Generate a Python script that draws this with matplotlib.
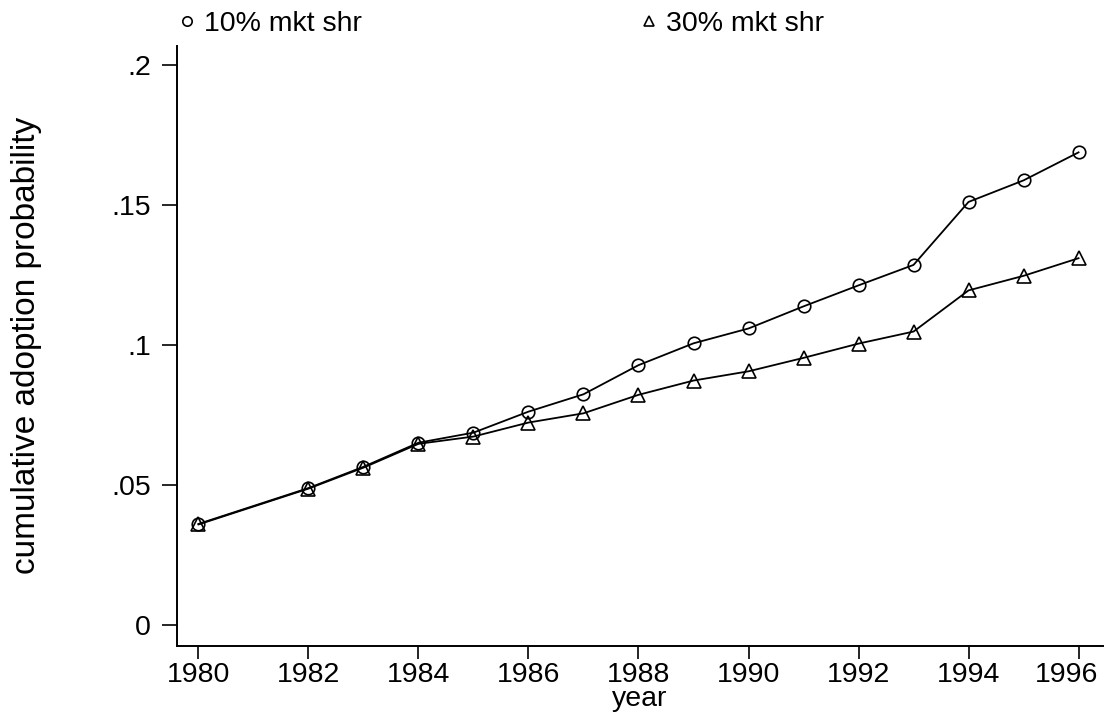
import matplotlib
matplotlib.use("Agg")
import matplotlib.pyplot as plt
from matplotlib.transforms import ScaledTranslation

plt.rcParams["font.family"] = ["Liberation Sans", "DejaVu Sans"]

# Data
years = [1980, 1982, 1983, 1984, 1985, 1986, 1987, 1988, 1989, 1990,
         1991, 1992, 1993, 1994, 1995, 1996]
share_10 = [0.0362, 0.0490, 0.0566, 0.0652, 0.0688, 0.0763, 0.0825, 0.0929,
            0.1007, 0.1060, 0.1139, 0.1214, 0.1287, 0.1512, 0.1589, 0.1689]
share_30 = [0.0360, 0.0488, 0.0563, 0.0648, 0.0674, 0.0724, 0.0757, 0.0823,
            0.0874, 0.0907, 0.0955, 0.1006, 0.1049, 0.1196, 0.1248, 0.1311]

x_ticks = list(range(1980, 1997, 2))
y_ticks = [0, 0.05, 0.1, 0.15, 0.2]
y_tick_labels = ["0", ".05", ".1", ".15", ".2"]

fs = 20.5

fig = plt.figure(figsize=(11.07, 7.14), dpi=100)
ax = fig.add_axes([0.1596, 0.0957, 0.8368, 0.8399])

ax.plot(years, share_10, color="black", linewidth=1.3, marker="o",
        markersize=9, markerfacecolor="none", markeredgewidth=1.2,
        label="10% mkt shr")
ax.plot(years, share_30, color="black", linewidth=1.3, marker="^",
        markersize=9.5, markerfacecolor="none", markeredgewidth=1.2,
        label="30% mkt shr")

ax.set_xlim(1979.604, 1996.445)
ax.set_ylim(-0.00729, 0.2069)
ax.set_xticks(x_ticks)
ax.set_yticks(y_ticks)
ax.set_yticklabels(y_tick_labels)

for side in ["top", "right"]:
    ax.spines[side].set_visible(False)
for side in ["left", "bottom"]:
    ax.spines[side].set_linewidth(1.4)

ax.tick_params(axis="x", direction="out", length=9, width=1.2,
               labelsize=fs, colors="black", pad=3)
ax.tick_params(axis="y", direction="out", length=10.5, width=1.2,
               labelsize=fs, colors="black", pad=8)

# last year label is pulled inside the canvas, as in the reference
last = ax.get_xticklabels()[-1]
last.set_transform(last.get_transform()
                   + ScaledTranslation(-0.12, 0, fig.dpi_scale_trans))

ax.set_xlabel("year", fontsize=fs, labelpad=-1.5)
ax.set_ylabel("cumulative adoption probability", fontsize=24, labelpad=50)

fig.legend(loc="upper left", bbox_to_anchor=(0.151, 1.012), ncol=2,
           frameon=False, fontsize=fs, handlelength=0, handletextpad=0.6,
           columnspacing=10.07, markerscale=0.75, borderpad=0.2)

fig.savefig("out.png", dpi=100)
